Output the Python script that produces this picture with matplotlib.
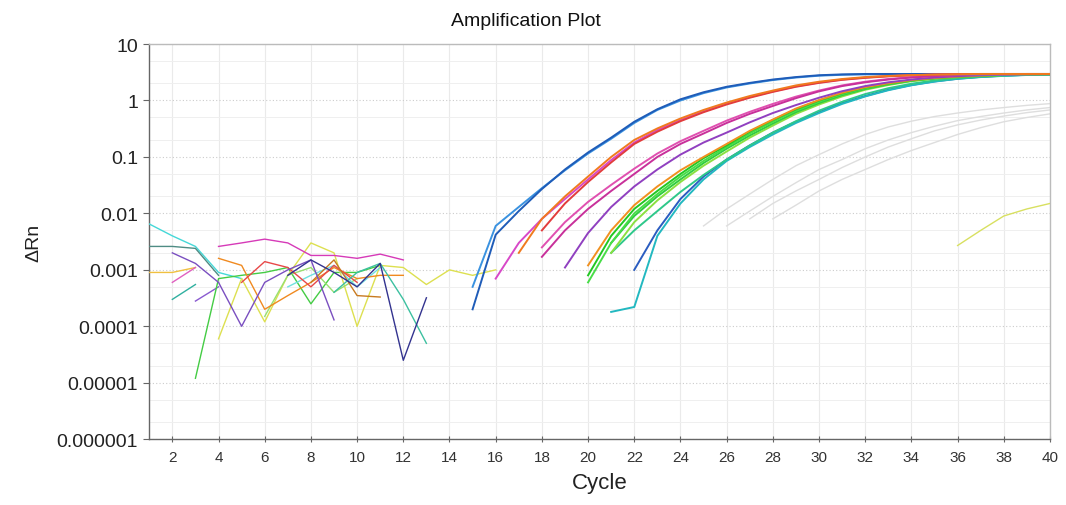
import numpy as np
import matplotlib
matplotlib.use("Agg")
import matplotlib.pyplot as plt
from matplotlib.ticker import LogLocator, NullFormatter

plt.rcParams["font.family"] = ["Liberation Sans", "DejaVu Sans"]

# Axis ticks
x_ticks = list(range(2, 41, 2))
y_ticks = [1e-6, 1e-5, 1e-4, 1e-3, 1e-2, 1e-1, 1, 10]
y_tick_labels = ["0.000001", "0.00001", "0.0001", "0.001", "0.01", "0.1", "1", "10"]

# Amplified wells: (first cycle, delta Rn per cycle)
amp_blue1 = (15, [0.0002, 0.0042, 0.011, 0.027, 0.06, 0.12, 0.22, 0.42, 0.7, 1.05, 1.4, 1.75, 2.05,
                  2.35, 2.6, 2.8, 2.9, 2.95, 2.95, 2.95, 2.95, 2.95, 2.95, 2.95, 2.95, 2.95])
amp_blue2 = (15, [0.0005, 0.006, 0.013, 0.028, 0.058, 0.115, 0.21, 0.4, 0.68, 1.0, 1.35, 1.7, 2.0,
                  2.3, 2.55, 2.75, 2.85, 2.9, 2.9, 2.9, 2.9, 2.9, 2.9, 2.9, 2.9, 2.9])
amp_magenta1 = (16, [0.0007, 0.003, 0.008, 0.018, 0.04, 0.088, 0.18, 0.3, 0.45, 0.64, 0.88, 1.15, 1.45,
                     1.78, 2.08, 2.35, 2.55, 2.7, 2.8, 2.87, 2.92, 2.95, 2.95, 2.95, 2.95])
amp_orange1 = (17, [0.002, 0.008, 0.02, 0.045, 0.1, 0.2, 0.32, 0.48, 0.68, 0.92, 1.2, 1.5, 1.85, 2.15,
                    2.4, 2.6, 2.72, 2.82, 2.88, 2.92, 2.95, 2.95, 2.95, 2.95])
amp_red1 = (18, [0.005, 0.015, 0.036, 0.08, 0.17, 0.28, 0.43, 0.62, 0.85, 1.12, 1.42, 1.75, 2.05, 2.32,
                 2.52, 2.68, 2.8, 2.87, 2.92, 2.95, 2.95, 2.95, 2.95])
amp_magenta2 = (18, [0.0017, 0.005, 0.012, 0.025, 0.05, 0.1, 0.17, 0.26, 0.4, 0.58, 0.8, 1.1, 1.45, 1.8,
                     2.1, 2.35, 2.55, 2.7, 2.8, 2.88, 2.92, 2.95, 2.95])
amp_pink2 = (18, [0.0025, 0.007, 0.016, 0.032, 0.062, 0.115, 0.19, 0.29, 0.44, 0.63, 0.87, 1.17, 1.5,
                  1.85, 2.15, 2.4, 2.6, 2.72, 2.82, 2.88, 2.92, 2.95, 2.95])
amp_purple2 = (19, [0.0011, 0.0045, 0.013, 0.03, 0.06, 0.11, 0.18, 0.27, 0.41, 0.6, 0.83, 1.12, 1.46,
                    1.8, 2.1, 2.35, 2.55, 2.7, 2.8, 2.88, 2.92, 2.95])
amp_orange2 = (20, [0.0012, 0.005, 0.014, 0.03, 0.058, 0.1, 0.17, 0.29, 0.46, 0.72, 1.02, 1.37, 1.72,
                    2.02, 2.3, 2.5, 2.65, 2.76, 2.85, 2.9, 2.93])
amp_green1 = (20, [0.0008, 0.004, 0.012, 0.025, 0.05, 0.095, 0.16, 0.28, 0.45, 0.7, 1.0, 1.35, 1.7,
                   2.0, 2.3, 2.5, 2.65, 2.75, 2.85, 2.9, 2.92])
amp_green2 = (20, [0.0006, 0.003, 0.01, 0.022, 0.045, 0.085, 0.15, 0.26, 0.42, 0.66, 0.95, 1.3, 1.65,
                   1.97, 2.27, 2.48, 2.63, 2.74, 2.84, 2.89, 2.92])
amp_green3 = (21, [0.003, 0.009, 0.02, 0.04, 0.078, 0.14, 0.24, 0.39, 0.62, 0.9, 1.24, 1.6, 1.93, 2.23,
                   2.45, 2.62, 2.73, 2.83, 2.89, 2.92])
amp_lime = (21, [0.002, 0.007, 0.017, 0.036, 0.07, 0.125, 0.22, 0.36, 0.58, 0.85, 1.18, 1.55, 1.88, 2.2,
                 2.43, 2.6, 2.72, 2.82, 2.88, 2.92])
amp_seagreen = (21, [0.002, 0.005, 0.011, 0.024, 0.048, 0.09, 0.16, 0.27, 0.43, 0.66, 0.95, 1.3, 1.65,
                     1.98, 2.27, 2.48, 2.64, 2.76, 2.85, 2.9])
amp_teal = (21, [0.00018, 0.00022, 0.004, 0.015, 0.04, 0.085, 0.15, 0.25, 0.4, 0.6, 0.87, 1.18, 1.52,
                 1.86, 2.16, 2.42, 2.6, 2.73, 2.83, 2.9])
amp_navy = (22, [0.001, 0.005, 0.018, 0.045, 0.09, 0.16, 0.27, 0.42, 0.62, 0.9, 1.2, 1.55, 1.88, 2.18,
                 2.43, 2.62, 2.75, 2.85, 2.9])

# Faint grey wells (weak signal)
grey1 = (25, [0.006, 0.012, 0.022, 0.04, 0.07, 0.11, 0.17, 0.25, 0.34, 0.43, 0.52, 0.6, 0.68, 0.75, 0.82, 0.88])
grey2 = (26, [0.006, 0.011, 0.02, 0.035, 0.06, 0.09, 0.14, 0.2, 0.27, 0.35, 0.44, 0.52, 0.6, 0.68, 0.75])
grey3 = (27, [0.008, 0.015, 0.025, 0.04, 0.065, 0.1, 0.15, 0.21, 0.29, 0.37, 0.45, 0.53, 0.61, 0.68])
grey4 = (28, [0.008, 0.014, 0.025, 0.04, 0.06, 0.09, 0.13, 0.18, 0.25, 0.33, 0.42, 0.5, 0.58])

late_yellow = (36, [0.0027, 0.005, 0.009, 0.012, 0.015])

# Baseline noise segments
n_cyan = (1, [0.0065, 0.004, 0.0026, 0.0009, 0.0007])
n_darkteal = (1, [0.0026, 0.0026, 0.0024, 0.0008])
n_purple = (2, [0.002, 0.0013, 0.0006, 0.0001, 0.0006, 0.001, 0.0015, 0.00013])
n_magenta = (4, [0.0026, 0.003, 0.0035, 0.003, 0.0018, 0.0018, 0.0016, 0.0019, 0.0015])
n_pink = (2, [0.0006, 0.0011])
n_teal = (2, [0.0003, 0.00055])
n_violet = (3, [0.00028, 0.0005])
n_green = (3, [0.000012, 0.0007, 0.0008, 0.0009, 0.0011, 0.00025, 0.0009, 0.0009, 0.0012])
n_seagreen = (9, [0.0004, 0.0009, 0.0013, 0.0003, 0.00005])
n_navy = (7, [0.0008, 0.0015, 0.0009, 0.0005, 0.0013, 0.000025, 0.00032])
n_yellow = (4, [0.00006, 0.0007, 0.00012, 0.0008, 0.003, 0.002, 0.0001, 0.0012, 0.0011, 0.00055,
                0.001, 0.0008, 0.001])
n_orange = (4, [0.0016, 0.0012, 0.0002, 0.00035, 0.0006, 0.0011, 0.0007, 0.0008, 0.0008])
n_red = (5, [0.0006, 0.0014, 0.0011, 0.0005, 0.0012, 0.0006])
n_brown = (8, [0.0006, 0.0015, 0.00035, 0.00033])
n_lightgreen = (6, [0.00015, 0.0008, 0.0011, 0.0004, 0.0007])
n_gold = (1, [0.0009, 0.0009, 0.0011])
n_lightcyan = (7, [0.0005, 0.0008, 0.0012, 0.0005, 0.0011])

grey_wells = [grey1, grey2, grey3, grey4]
noise_wells = [
    (n_cyan, "#45d8d8"), (n_darkteal, "#4f8c84"), (n_gold, "#f0c040"), (n_pink, "#e060c0"),
    (n_teal, "#30b0a0"), (n_violet, "#8a5ad0"), (n_green, "#44cc44"), (n_yellow, "#dde050"),
    (n_lightgreen, "#98e070"), (n_lightcyan, "#6fe0e0"), (n_orange, "#f08a20"), (n_red, "#e84848"),
    (n_brown, "#c87a20"), (n_seagreen, "#3cc0a0"), (n_magenta, "#d63ab8"), (n_purple, "#7a4fc0"),
    (n_navy, "#33338f"),
]
amp_wells = [
    (amp_navy, "#2a5cc0"), (amp_teal, "#22b8c0"), (amp_seagreen, "#2ec88a"),
    (amp_lime, "#8ae040"), (amp_green3, "#30cc40"), (amp_green2, "#48dd48"), (amp_green1, "#22c822"),
    (amp_orange2, "#f09020"), (amp_purple2, "#9040c0"), (amp_pink2, "#e050b0"),
    (amp_magenta2, "#c8309a"), (amp_blue2, "#3a92e0"), (amp_blue1, "#1f5cb8"),
    (amp_magenta1, "#d848c8"), (amp_red1, "#e23c3c"), (amp_orange1, "#f07a1e"),
]

fig = plt.figure(figsize=(10.66, 5.06), dpi=100)
ax = fig.add_axes([0.140, 0.130, 0.845, 0.781])
ax.set_yscale("log")

for start, vals in grey_wells:
    ax.plot(np.arange(start, start + len(vals)), vals, color="#dedede", lw=1.0, zorder=2)

for (start, vals), col in noise_wells:
    ax.plot(np.arange(start, start + len(vals)), vals, color=col, lw=1.0, zorder=3)

ax.plot(np.arange(late_yellow[0], late_yellow[0] + len(late_yellow[1])), late_yellow[1],
        color="#d8e060", lw=1.0, zorder=3)

for (start, vals), col in amp_wells:
    ax.plot(np.arange(start, start + len(vals)), vals, color=col, lw=1.4, zorder=4)

ax.set_xlim(1, 40)
ax.set_ylim(1e-6, 10)
ax.set_xticks(x_ticks)
ax.set_xticklabels([str(t) for t in x_ticks], fontsize=11, color="#333333",
                   family=["Liberation Sans Narrow", "Liberation Sans"])
ax.set_yticks(y_ticks)
ax.set_yticklabels(y_tick_labels, fontsize=14, color="#222222")
ax.yaxis.set_minor_locator(LogLocator(base=10, subs=[2.0, 5.0], numticks=20))
ax.yaxis.set_minor_formatter(NullFormatter())
ax.tick_params(axis="y", which="minor", length=0)
ax.tick_params(axis="y", which="major", length=4, color="#666666", pad=4)
ax.tick_params(axis="x", which="major", length=5, direction="inout", color="#666666", pad=5)

ax.grid(True, which="major", axis="y", color="#cccccc", lw=0.8, ls=(0, (1, 2)))
ax.grid(True, which="minor", axis="y", color="#efefef", lw=0.7)
ax.grid(True, which="major", axis="x", color="#eaeaea", lw=0.8)
ax.set_axisbelow(True)

for side in ["left", "bottom"]:
    ax.spines[side].set_color("#666666")
    ax.spines[side].set_linewidth(1.0)
for side in ["top", "right"]:
    ax.spines[side].set_color("#bbbbbb")
    ax.spines[side].set_linewidth(1.0)

fig.text(0.493, 0.958, "Amplification Plot", ha="center", va="center", fontsize=14, color="#111111")
ax.set_xlabel("Cycle", fontsize=16, color="#222222", labelpad=6)
ax.set_ylabel("\u0394Rn", fontsize=14, color="#222222", labelpad=10)

fig.savefig("out.png", dpi=100)
